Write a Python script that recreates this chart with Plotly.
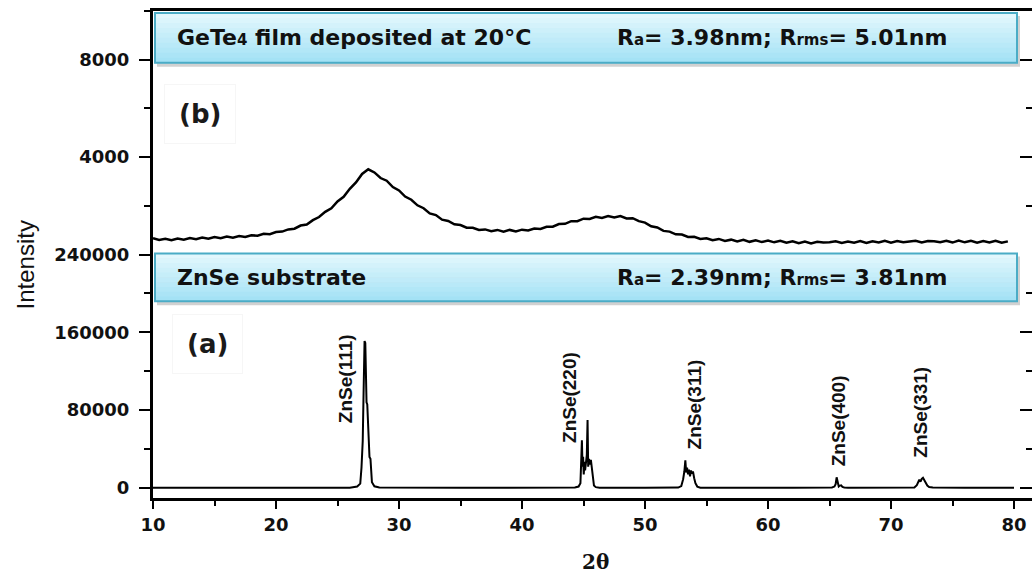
import plotly.graph_objects as go

# ---------------- data ----------------
# (b) GeTe4 film deposited at 20 °C  (upper panel)
film_2theta = [10.0, 10.5, 11.0, 11.5, 12.0, 12.5, 13.0, 13.5, 14.0, 14.5,
               15.0, 15.5, 16.0, 16.5, 17.0, 17.5, 18.0, 18.5, 19.0, 19.5,
               20.0, 20.5, 21.0, 21.5, 22.0, 22.5, 23.0, 23.5, 24.0, 24.5,
               25.0, 25.5, 26.0, 26.5, 27.0, 27.5, 28.0, 28.5, 29.0, 29.5,
               30.0, 30.5, 31.0, 31.5, 32.0, 32.5, 33.0, 33.5, 34.0, 34.5,
               35.0, 35.5, 36.0, 36.5, 37.0, 37.5, 38.0, 38.5, 39.0, 39.5,
               40.0, 40.5, 41.0, 41.5, 42.0, 42.5, 43.0, 43.5, 44.0, 44.5,
               45.0, 45.5, 46.0, 46.5, 47.0, 47.5, 48.0, 48.5, 49.0, 49.5,
               50.0, 50.5, 51.0, 51.5, 52.0, 52.5, 53.0, 53.5, 54.0, 54.5,
               55.0, 55.5, 56.0, 56.5, 57.0, 57.5, 58.0, 58.5, 59.0, 59.5,
               60.0, 60.5, 61.0, 61.5, 62.0, 62.5, 63.0, 63.5, 64.0, 64.5,
               65.0, 65.5, 66.0, 66.5, 67.0, 67.5, 68.0, 68.5, 69.0, 69.5,
               70.0, 70.5, 71.0, 71.5, 72.0, 72.5, 73.0, 73.5, 74.0, 74.5,
               75.0, 75.5, 76.0, 76.5, 77.0, 77.5, 78.0, 78.5, 79.0, 79.5]
film_intensity = [670, 600, 650, 590, 660, 610, 680, 630, 700, 650,
                  720, 670, 740, 690, 760, 720, 790, 770, 850, 830,
                  920, 940, 1030, 1060, 1190, 1230, 1410, 1540, 1750, 1900,
                  2180, 2370, 2700, 2960, 3310, 3500, 3370, 3140, 3030, 2770,
                  2630, 2380, 2250, 2020, 1900, 1690, 1620, 1430, 1380, 1240,
                  1210, 1100, 1100, 1010, 1030, 960, 1010, 940, 1010, 950,
                  1020, 990, 1070, 1050, 1140, 1140, 1250, 1260, 1370, 1370,
                  1470, 1460, 1550, 1500, 1580, 1520, 1580, 1480, 1490, 1370,
                  1310, 1160, 1110, 970, 940, 830, 820, 720, 730, 640,
                  670, 590, 640, 560, 610, 540, 600, 520, 580, 510,
                  570, 500, 560, 480, 540, 460, 530, 450, 520, 490,
                  500, 540, 470, 530, 480, 550, 470, 540, 490, 560,
                  480, 550, 500, 520, 560, 490, 550, 540, 500, 560,
                  490, 570, 500, 560, 480, 550, 490, 560, 480, 540]

# (a) ZnSe substrate  (lower panel)
zn_2theta = [10, 15, 20, 25, 26.0, 26.6, 26.85, 26.95, 27.05, 27.12,
             27.2, 27.26, 27.3, 27.36, 27.42, 27.5, 27.6, 27.68, 27.8, 28.0,
             28.4, 35, 40, 44.3, 44.6, 44.75, 44.82, 44.87, 44.92, 44.97,
             45.02, 45.08, 45.13, 45.2, 45.27, 45.33, 45.38, 45.45, 45.52, 45.6,
             45.68, 45.76, 45.85, 46.0, 46.3, 50, 52.7, 52.95, 53.1, 53.2,
             53.28, 53.35, 53.42, 53.5, 53.58, 53.66, 53.74, 53.82, 53.9, 54.0,
             54.1, 54.25, 54.5, 62, 65.2, 65.4, 65.5, 65.58, 65.65, 65.75,
             65.85, 65.95, 66.05, 66.2, 66.5, 70, 71.9, 72.1, 72.2, 72.3,
             72.4, 72.5, 72.6, 72.7, 72.8, 72.95, 73.1, 73.4, 76, 80]
zn_intensity = [300, 300, 300, 300, 400, 1500, 4500, 21000, 48000, 98000,
                151000, 149000, 100000, 88000, 86000, 55000, 32000, 30000, 6000, 1800,
                500, 300, 300, 500, 1500, 5000, 30000, 49000, 22000, 32000,
                14000, 27000, 18000, 24000, 34000, 70000, 22000, 30000, 24000, 29000,
                19000, 8000, 2500, 900, 400, 300, 500, 2000, 9000, 17000,
                28500, 16000, 21000, 14000, 19000, 12000, 18000, 15000, 17000, 10000,
                5000, 1500, 400, 300, 500, 1500, 4000, 11000, 5000, 1500,
                2500, 2800, 1200, 600, 400, 300, 600, 3000, 7000, 8500,
                6500, 9500, 10500, 8000, 5000, 2500, 1000, 500, 300, 300]

peak_labels = ["ZnSe(111)", "ZnSe(220)", "ZnSe(311)", "ZnSe(400)", "ZnSe(331)"]
peak_label_2theta = [25.6, 43.8, 54.0, 65.7, 72.4]
peak_label_height = [112800, 93300, 86100, 68700, 78000]

x_ticks = [10, 20, 30, 40, 50, 60, 70, 80]
x_minor = [15, 25, 35, 45, 55, 65, 75]
zn_ticks = [0, 80000, 160000, 240000]
zn_tick_text = ["0", "80000", "160000", "240000"]
zn_minor = [40000, 120000, 200000]
film_ticks = [4000, 8000]
film_tick_text = ["4000", "8000"]
film_minor = [2000, 6000, 10000]

# ---------------- layout geometry ----------------
W, H = 1032, 575
PL, PR, PT, PB = 153, 1032, 8, 498


def px(x):
    return (x - PL) / (PR - PL)


def py(y):
    return (PB - y) / (PB - PT)


INK = "#111111"
TICKFONT = dict(family="DejaVu Sans", size=18, color=INK, weight="bold")

fig = go.Figure()
fig.add_trace(go.Scatter(x=film_2theta, y=film_intensity, xaxis="x2", yaxis="y2",
                         mode="lines", line=dict(color="black", width=2.5),
                         showlegend=False, hoverinfo="skip"))
fig.add_trace(go.Scatter(x=zn_2theta, y=zn_intensity, xaxis="x", yaxis="y",
                         mode="lines", line=dict(color="black", width=2),
                         showlegend=False, hoverinfo="skip"))
# invisible carriers for the right-hand (mirrored, inward) tick axes
fig.add_trace(go.Scatter(x=zn_2theta, y=zn_intensity, xaxis="x", yaxis="y3",
                         mode="lines", line=dict(color="rgba(0,0,0,0)", width=0),
                         showlegend=False, hoverinfo="skip"))
fig.add_trace(go.Scatter(x=film_2theta, y=film_intensity, xaxis="x2", yaxis="y4",
                         mode="lines", line=dict(color="rgba(0,0,0,0)", width=0),
                         showlegend=False, hoverinfo="skip"))

XR = [10, 10 + (PR - PL) / 12.3]
ZR = [-10250, 240000]
FR = [0, 10000]

common_y = dict(showgrid=False, zeroline=False, linecolor="black", linewidth=3,
                tickcolor="black", tickwidth=2, tickfont=TICKFONT)

fig.update_layout(
    width=W, height=H,
    margin=dict(l=PL, r=W - PR, t=PT, b=H - PB),
    paper_bgcolor="white", plot_bgcolor="white",
    xaxis=dict(domain=[0, 1], range=XR, anchor="y", tickmode="array", tickvals=x_ticks,
               ticks="outside", ticklen=8, tickwidth=2, tickcolor="black",
               minor=dict(tickmode="array", tickvals=x_minor, ticks="outside", ticklen=5,
                          tickwidth=2, tickcolor="black"),
               showline=True, linecolor="black", linewidth=3, showgrid=False,
               zeroline=False, tickfont=TICKFONT, ticklabelstandoff=0),
    xaxis2=dict(domain=[0, 1], range=XR, matches="x", anchor="y2", side="top",
                showline=True, linecolor="black", linewidth=3, showgrid=False,
                zeroline=False, ticks="", showticklabels=False),
    yaxis=dict(domain=[0, 0.5], range=ZR, anchor="x", tickmode="array", tickvals=zn_ticks,
               ticktext=zn_tick_text,
               ticks="outside", ticklen=11, showline=True,
               minor=dict(tickmode="array", tickvals=zn_minor, ticks="outside", ticklen=6,
                          tickwidth=2, tickcolor="black"),
               ticklabelstandoff=6, **common_y),
    yaxis2=dict(domain=[0.5, 1], range=FR, anchor="x2", tickmode="array", tickvals=film_ticks,
                ticktext=film_tick_text,
                ticks="outside", ticklen=11, showline=True,
                minor=dict(tickmode="array", tickvals=film_minor, ticks="outside", ticklen=6,
                           tickwidth=2, tickcolor="black"),
                ticklabelstandoff=6, **common_y),
    yaxis3=dict(overlaying="y", side="right", anchor="x", range=ZR, tickmode="array",
                tickvals=zn_ticks, ticks="inside", ticklen=12, showticklabels=False,
                minor=dict(tickmode="array", tickvals=zn_minor, ticks="inside", ticklen=6,
                           tickwidth=2, tickcolor="black"),
                showgrid=False, zeroline=False, showline=False, tickcolor="black", tickwidth=2),
    yaxis4=dict(overlaying="y2", side="right", anchor="x2", range=FR, tickmode="array",
                tickvals=film_ticks, ticks="inside", ticklen=12, showticklabels=False,
                minor=dict(tickmode="array", tickvals=film_minor, ticks="inside", ticklen=6,
                           tickwidth=2, tickcolor="black"),
                showgrid=False, zeroline=False, showline=False, tickcolor="black", tickwidth=2),
)

# ---------------- banners (Office-style light-aqua callouts) ----------------
shapes = []
BANNER_TOP = "#e2f7fd"
BANNER_BOT = "#a4e2f5"


def hex2rgb(h):
    return tuple(int(h[i:i + 2], 16) for i in (1, 3, 5))


def banner(x0, y0, x1, y1):
    # shadow
    shapes.append(dict(type="rect", xref="paper", yref="paper", layer="above",
                       x0=px(x0 + 2), x1=px(x1 + 3), y0=py(y1 + 4), y1=py(y0 + 3),
                       fillcolor="rgba(0,0,0,0.18)", line=dict(width=0)))
    n = 10
    c0, c1 = hex2rgb(BANNER_TOP), hex2rgb(BANNER_BOT)
    for i in range(n):
        t = i / (n - 1)
        col = "rgb(%d,%d,%d)" % tuple(round(a + (b - a) * t) for a, b in zip(c0, c1))
        ya = y0 + (y1 - y0) * i / n
        yb = y0 + (y1 - y0) * (i + 1) / n
        shapes.append(dict(type="rect", xref="paper", yref="paper", layer="above",
                           x0=px(x0), x1=px(x1), y0=py(yb + 0.5), y1=py(ya),
                           fillcolor=col, line=dict(width=0)))
    shapes.append(dict(type="rect", xref="paper", yref="paper", layer="above",
                       x0=px(x0), x1=px(x1), y0=py(y1), y1=py(y0),
                       fillcolor="rgba(0,0,0,0)", line=dict(color="#4bacc6", width=2)))


banner(155, 10, 1017, 60)
banner(155, 252, 1017, 300)

BANNER_FONT = dict(family="DejaVu Sans", size=22, color=INK, weight="bold")
ann = []


def text_at(xp, yp, txt, font, xanchor="left", **kw):
    ann.append(dict(xref="paper", yref="paper", x=px(xp), y=py(yp), text=txt,
                    showarrow=False, xanchor=xanchor, yanchor="middle", font=font, **kw))


SUB = "<span style='font-size:15px'>%s</span>"
text_at(175, 35, "GeTe" + SUB % "4" + " film deposited at 20°C", BANNER_FONT)
text_at(615, 35, "R" + SUB % "a" + "= 3.98nm; R" + SUB % "rms" + "= 5.01nm", BANNER_FONT)
text_at(175, 276, "ZnSe substrate", BANNER_FONT)
text_at(615, 276, "R" + SUB % "a" + "= 2.39nm; R" + SUB % "rms" + "= 3.81nm", BANNER_FONT)

PANEL_FONT = dict(family="DejaVu Sans", size=26, color="#1a1a1a", weight="bold")
text_at(200, 112, "(b)", PANEL_FONT, xanchor="center", bordercolor="#f6f6f6", borderpad=14,
        borderwidth=1)
text_at(207, 343, "(a)", PANEL_FONT, xanchor="center", bordercolor="#f6f6f6", borderpad=14,
        borderwidth=1)

# peak labels
for lab, xv, yv in zip(peak_labels, peak_label_2theta, peak_label_height):
    ann.append(dict(xref="x", yref="y", x=xv, y=yv, text="<b>%s</b>" % lab, showarrow=False,
                    textangle=-90, xanchor="center", yanchor="middle",
                    font=dict(family="Liberation Sans", size=19, color=INK)))

# axis titles
text_at(595, 562, "<b>2θ</b>", dict(family="DejaVu Serif", size=20, color=INK),
        xanchor="center")
ann.append(dict(xref="paper", yref="paper", x=px(25), y=py(264), text="Intensity",
                showarrow=False, textangle=-90, xanchor="center", yanchor="middle",
                font=dict(family="Liberation Sans", size=24, color=INK)))

fig.update_layout(shapes=shapes, annotations=ann)
fig.write_html("out.html")
